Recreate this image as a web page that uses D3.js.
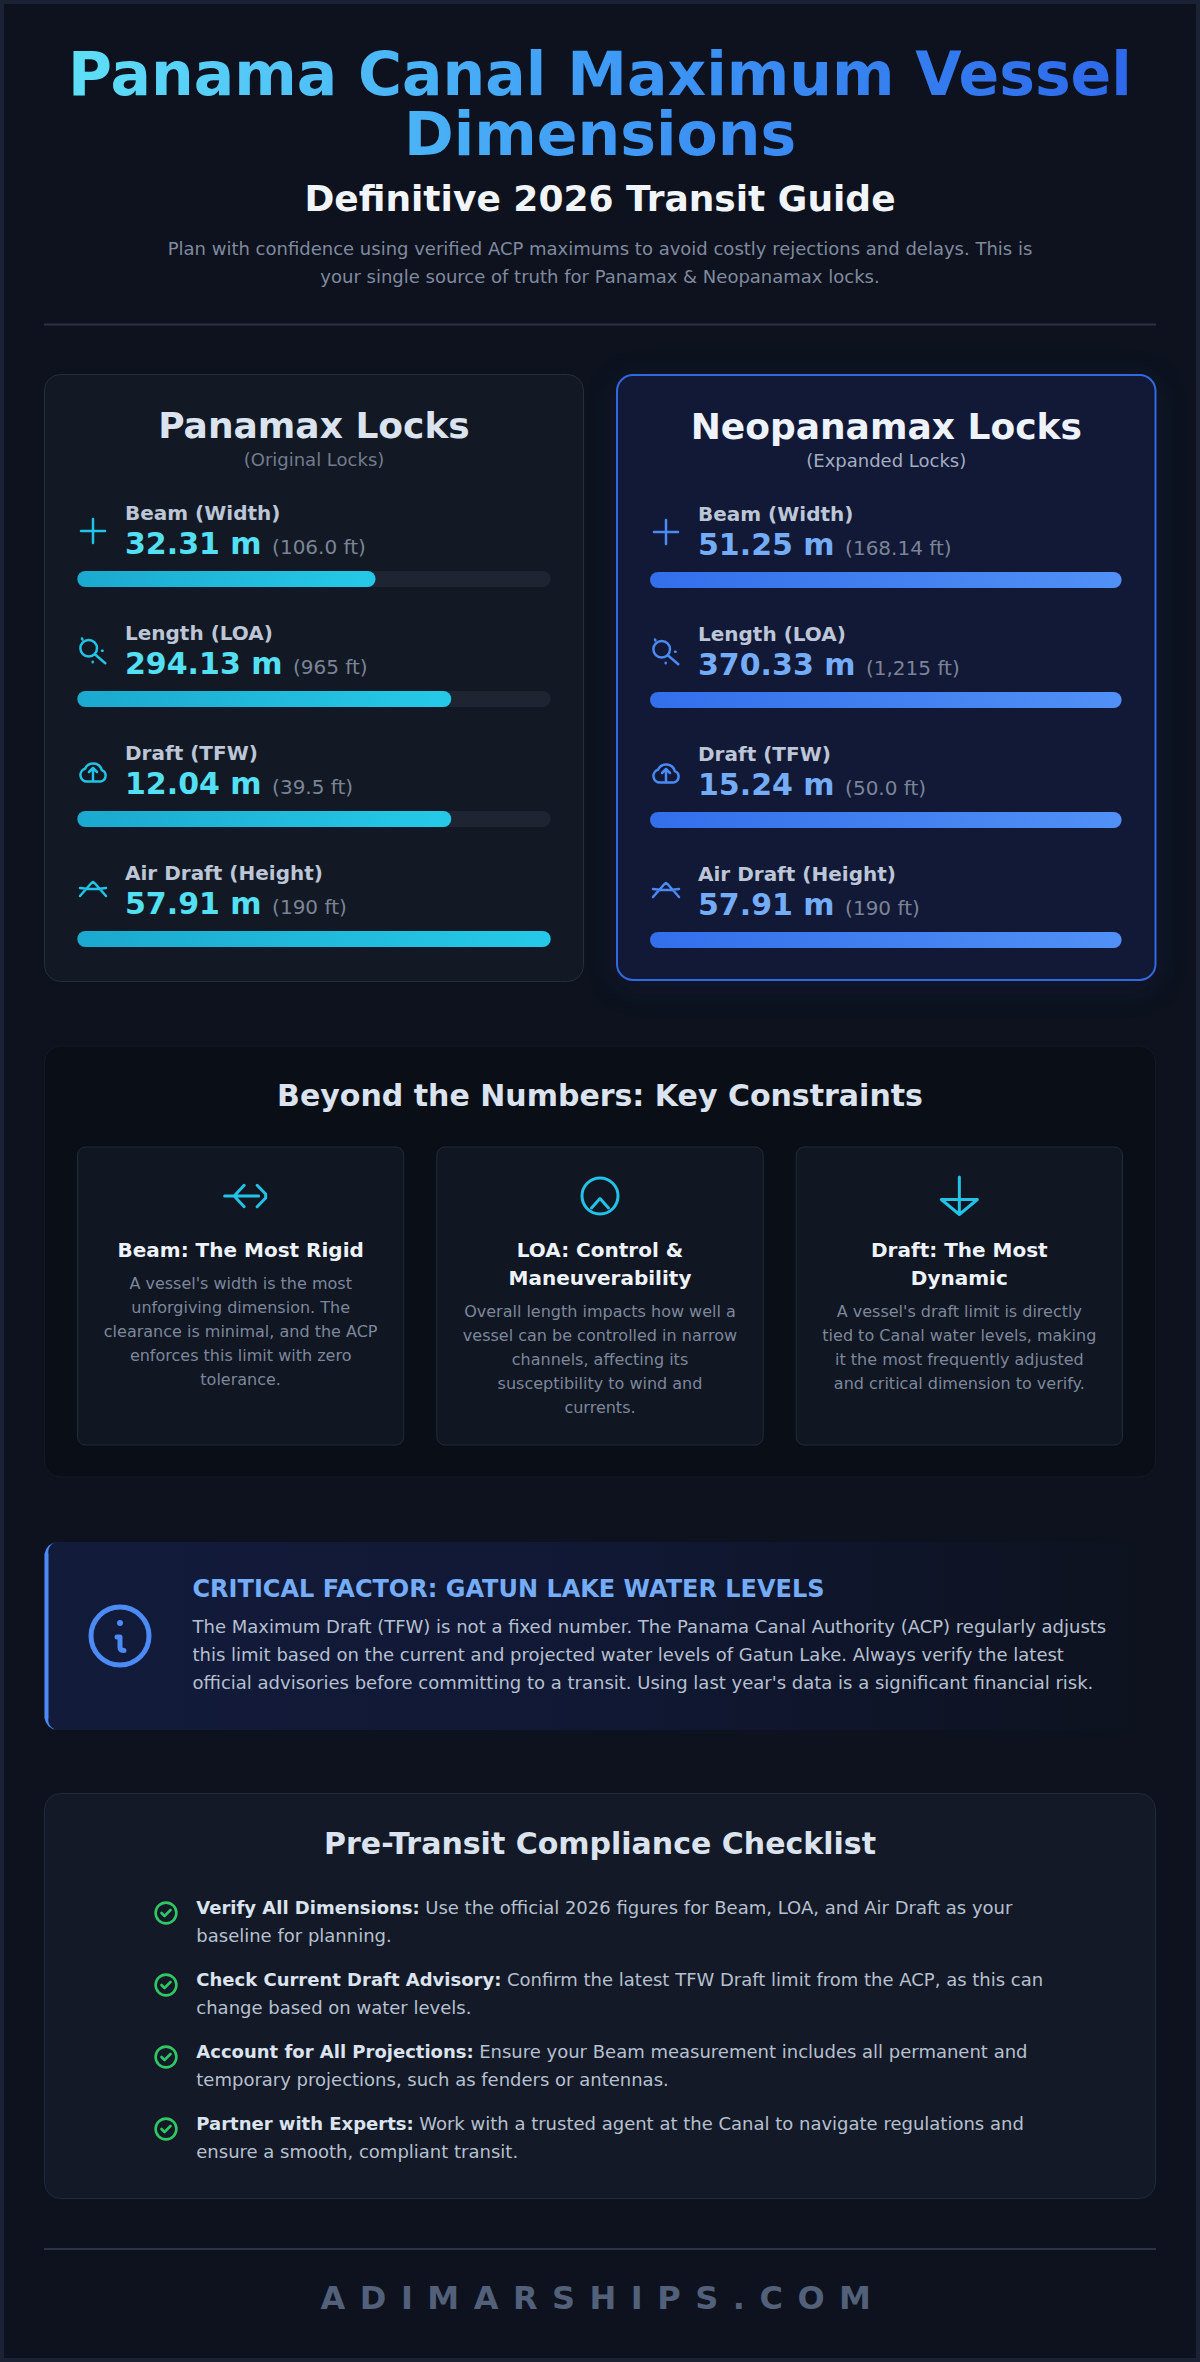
<!DOCTYPE html>
<html lang="en">
<head>
<meta charset="UTF-8">
<title>Panama Canal Maximum Vessel Dimensions</title>
<script src="https://d3js.org/d3.v7.min.js"></script>
<style>
    html, body { margin: 0; padding: 0; background: #0d121e; }
    svg { display: block; font-family: "DejaVu Sans", sans-serif; }
</style>
</head>
<body>
<div id="chart"></div>
<script>
// --- data ---
const titleLines = ["Panama Canal Maximum Vessel", "Dimensions"];
const subtitle = "Definitive 2026 Transit Guide";
const introLines = [
    "Plan with confidence using verified ACP maximums to avoid costly rejections and delays. This is",
    "your single source of truth for Panamax & Neopanamax locks."
];

const lockNames = ["Panamax Locks", "Neopanamax Locks"];
const lockNotes = ["(Original Locks)", "(Expanded Locks)"];
const metricLabels = ["Beam (Width)", "Length (LOA)", "Draft (TFW)", "Air Draft (Height)"];
const metricIcons = ["beam", "length", "draft", "air"];
const panamaxMeters = ["32.31 m", "294.13 m", "12.04 m", "57.91 m"];
const panamaxFeet = ["(106.0 ft)", "(965 ft)", "(39.5 ft)", "(190 ft)"];
const panamaxPercent = [63, 79, 79, 100];
const neoMeters = ["51.25 m", "370.33 m", "15.24 m", "57.91 m"];
const neoFeet = ["(168.14 ft)", "(1,215 ft)", "(50.0 ft)", "(190 ft)"];
const neoPercent = [100, 100, 100, 100];

const constraintsTitle = "Beyond the Numbers: Key Constraints";
const constraintIcons = ["rigid", "control", "dynamic"];
const constraintHeads = [
    ["Beam: The Most Rigid"],
    ["LOA: Control &", "Maneuverability"],
    ["Draft: The Most", "Dynamic"]
];
const constraintTexts = [
    ["A vessel's width is the most", "unforgiving dimension. The", "clearance is minimal, and the ACP", "enforces this limit with zero", "tolerance."],
    ["Overall length impacts how well a", "vessel can be controlled in narrow", "channels, affecting its", "susceptibility to wind and", "currents."],
    ["A vessel's draft limit is directly", "tied to Canal water levels, making", "it the most frequently adjusted", "and critical dimension to verify."]
];

const calloutHead = "CRITICAL FACTOR: GATUN LAKE WATER LEVELS";
const calloutLines = [
    "The Maximum Draft (TFW) is not a fixed number. The Panama Canal Authority (ACP) regularly adjusts",
    "this limit based on the current and projected water levels of Gatun Lake. Always verify the latest",
    "official advisories before committing to a transit. Using last year's data is a significant financial risk."
];

const checklistTitle = "Pre-Transit Compliance Checklist";
const checklistBold = ["Verify All Dimensions:", "Check Current Draft Advisory:", "Account for All Projections:", "Partner with Experts:"];
const checklistFirst = [
    "Use the official 2026 figures for Beam, LOA, and Air Draft as your",
    "Confirm the latest TFW Draft limit from the ACP, as this can",
    "Ensure your Beam measurement includes all permanent and",
    "Work with a trusted agent at the Canal to navigate regulations and"
];
const checklistSecond = [
    "baseline for planning.",
    "change based on water levels.",
    "temporary projections, such as fenders or antennas.",
    "ensure a smooth, compliant transit."
];
const footerText = "ADIMARSHIPS.COM";

// --- icons, drawn around 0,0 ---
const iconPaths = {
    beam: "M-12 0H12M0 -12V12",
    length: "M4 -2.7a8.3 8.3 0 1 0 -16.6 0a8.3 8.3 0 1 0 16.6 0M-11 -12.5l.4 1M9 -.3h.6M-.3 10.7v.6M1.5 3L12.3 12.3",
    draft: "M-6 10.5a6.5 6.5 0 0 1 -2 -12.7a8.9 8.9 0 0 1 16.8 1.4a5.9 5.9 0 0 1 -1 11.3ZM0 10.5V-3M-4 1L0 -3L4 1",
    air: "M-13 5L-2 -7.5L0 -9L2 -7.5L13 5M-13 -3Q0 -1 13 -3",
    rigid: "M-16 0H18M3.5 -10.7L-6.5 0L3.5 10.7M16.5 -10.7L25 -2V2L16.5 10.7",
    control: "M-8.5 12L0 2.5L8.5 12",
    dynamic: "M0 -19V18.5M-18 3.5H18M-18 3.5L0 18.5L18 3.5",
    info: "M-3 1H0V11Q0 14.5 4 14.5",
    check: "M-4.5 0L-1.5 3L4.5 -3"
};

const width = 1200, height = 2362;
const svg = d3.select("#chart").append("svg")
    .attr("width", width).attr("height", height).attr("viewBox", `0 0 ${width} ${height}`);

const defs = svg.append("defs");

function linearGradient(id, stops) {
    const g = defs.append("linearGradient").attr("id", id);
    stops.forEach(s => g.append("stop").attr("offset", s[0]).attr("stop-color", s[1]));
    return g;
}
linearGradient("titleGrad", [[0, "#5ee0f7"], [0.5, "#3f9bf6"], [1, "#2d68ea"]])
    .attr("gradientUnits", "userSpaceOnUse").attr("x1", 69).attr("x2", 1132).attr("y1", 0).attr("y2", 0);
linearGradient("barCyan", [[0, "#1ba9cf"], [1, "#25c9e8"]]);
linearGradient("barBlue", [[0, "#336fea"], [1, "#5190f6"]]);
linearGradient("calloutGrad", [[0, "#121b3a"], [0.5, "#101834"], [1, "#0d121e"]]);

const blur = defs.append("filter").attr("id", "glow").attr("x", "-20%").attr("y", "-20%").attr("width", "140%").attr("height", "140%");
blur.append("feGaussianBlur").attr("stdDeviation", 16);

// page frame
svg.append("rect").attr("width", width).attr("height", height).attr("fill", "#1a2233");
svg.append("rect").attr("x", 4).attr("y", 4).attr("width", width - 8).attr("height", height - 8).attr("fill", "#0d121e");

function textLine(parent, str, x, y, size, fill, weight, anchor) {
    return parent.append("text")
        .attr("x", x).attr("y", y)
        .attr("font-size", size)
        .attr("font-weight", weight || "normal")
        .attr("text-anchor", anchor || "start")
        .attr("fill", fill)
        .text(str);
}

// --- header ---
svg.append("g").selectAll("text").data(titleLines).join("text")
    .attr("x", 600)
    .attr("y", (d, i) => 95 + i * 60)
    .attr("text-anchor", "middle")
    .attr("font-size", 60)
    .attr("font-weight", "bold")
    .attr("fill", "url(#titleGrad)")
    .text(d => d);

textLine(svg, subtitle, 600, 211, 36, "#f1f5f9", "bold", "middle");
svg.selectAll(".intro").data(introLines).join("text").attr("class", "intro")
    .attr("x", 600).attr("y", (d, i) => 255 + i * 28)
    .attr("text-anchor", "middle").attr("font-size", 18).attr("fill", "#808a9e")
    .text(d => d);
svg.append("rect").attr("x", 44).attr("y", 323.5).attr("width", 1112).attr("height", 2).attr("fill", "#2a3245");

// --- lock cards ---
const cards = [
    { x: 44.5, y: 374.5, w: 539, h: 607, fill: "#121924", stroke: "#262e3c", sw: 1, titleFill: "#dbe3ef", noteFill: "#737c8e",
      name: lockNames[0], note: lockNotes[0], meters: panamaxMeters, feet: panamaxFeet, percent: panamaxPercent,
      accent: "#22c3e6", valueFill: "#53e0f5", bar: "barCyan", dy: 0, track: [77.3, 473.4], iconX: 93, labelX: 125 },
    { x: 617, y: 375, w: 538.5, h: 605, fill: "#111936", stroke: "#3269e0", sw: 2, titleFill: "#eef3fb", noteFill: "#a3adc0",
      name: lockNames[1], note: lockNotes[1], meters: neoMeters, feet: neoFeet, percent: neoPercent,
      accent: "#4a8af4", valueFill: "#74acf8", bar: "barBlue", dy: 1, track: [650, 471.6], iconX: 666, labelX: 698 }
];

// soft glow behind the expanded card
svg.append("rect").attr("x", cards[1].x).attr("y", cards[1].y + 6).attr("width", cards[1].w).attr("height", cards[1].h)
    .attr("rx", 16).attr("fill", "#14265c").attr("opacity", 0.3).attr("filter", "url(#glow)");

cards.forEach(c => {
    const g = svg.append("g");
    g.append("rect").attr("x", c.x).attr("y", c.y).attr("width", c.w).attr("height", c.h).attr("rx", 16)
        .attr("fill", c.fill).attr("stroke", c.stroke).attr("stroke-width", c.sw);
    const cx = c.x + c.w / 2;
    textLine(g, c.name, cx, 437.5 + c.dy, 36, c.titleFill, "bold", "middle");
    textLine(g, c.note, cx, 466 + c.dy, 18, c.noteFill, "normal", "middle");

    const xBar = d3.scaleLinear().domain([0, 100]).range([0, c.track[1]]);
    const yRow = d3.scaleBand().domain(metricLabels).range([0, 480]);

    const rows = g.selectAll(".row").data(metricLabels).join("g").attr("class", "row")
        .attr("transform", d => `translate(0,${yRow(d) + c.dy})`);

    rows.append("path")
        .attr("transform", `translate(${c.iconX},531)`)
        .attr("d", (d, i) => iconPaths[metricIcons[i]])
        .attr("fill", "none").attr("stroke", c.accent).attr("stroke-width", 2.5)
        .attr("stroke-linecap", "round").attr("stroke-linejoin", "round");
    rows.append("text").attr("x", c.labelX).attr("y", 520)
        .attr("font-size", 20).attr("font-weight", "bold").attr("fill", "#bcc6d6")
        .text(d => d);
    const val = rows.append("text").attr("x", c.labelX).attr("y", 554);
    val.append("tspan").attr("font-size", 30).attr("font-weight", "bold").attr("fill", c.valueFill)
        .text((d, i) => c.meters[i]);
    val.append("tspan").attr("dx", 10.5).attr("font-size", 20).attr("fill", "#7b8496")
        .text((d, i) => c.feet[i]);

    rows.append("rect").attr("x", c.track[0]).attr("y", 571).attr("width", xBar(100)).attr("height", 16).attr("rx", 8)
        .attr("fill", "#1e2431");
    rows.append("rect").attr("x", c.track[0]).attr("y", 571)
        .attr("width", (d, i) => xBar(c.percent[i])).attr("height", 16).attr("rx", 8)
        .attr("fill", `url(#${c.bar})`);
});

// --- constraints ---
const panel = svg.append("g");
panel.append("rect").attr("x", 44.5).attr("y", 1046).attr("width", 1111).attr("height", 431).attr("rx", 16)
    .attr("fill", "#0a0e17").attr("stroke", "#141923");
textLine(panel, constraintsTitle, 600, 1106, 30, "#dbe3ef", "bold", "middle");

const xCard = d3.scaleBand().domain(constraintIcons).range([77.5, 1122.5]).paddingInner(33 / 359);
const subCards = panel.selectAll(".sub").data(constraintIcons).join("g").attr("class", "sub")
    .attr("transform", d => `translate(${xCard(d)},0)`);
subCards.append("rect").attr("y", 1147).attr("width", xCard.bandwidth()).attr("height", 298).attr("rx", 8)
    .attr("fill", "#101622").attr("stroke", "#232a37");
const subCx = xCard.bandwidth() / 2;
subCards.append("path").attr("transform", `translate(${subCx},1196)`)
    .attr("d", d => iconPaths[d]).attr("fill", "none").attr("stroke", "#22c3e6").attr("stroke-width", 3)
    .attr("stroke-linecap", "round").attr("stroke-linejoin", "round");
subCards.filter(d => d === "control").append("circle").attr("cx", subCx).attr("cy", 1196)
    .attr("r", 18).attr("fill", "none").attr("stroke", "#22c3e6").attr("stroke-width", 3);
subCards.each(function (d, i) {
    const g = d3.select(this);
    const heads = constraintHeads[i];
    heads.forEach((h, j) => textLine(g, h, subCx, 1256.5 + j * 28, 20, "#eef3fb", "bold", "middle"));
    const y0 = 1289 + (heads.length - 1) * 28;
    constraintTexts[i].forEach((t, j) => textLine(g, t, subCx, y0 + j * 24, 16, "#7d879b", "normal", "middle"));
});

// --- callout ---
const callout = svg.append("g");
callout.append("rect").attr("x", 44.5).attr("y", 1542).attr("width", 1111).attr("height", 188).attr("rx", 12)
    .attr("fill", "url(#calloutGrad)");
callout.append("path").attr("d", "M57 1542a14 14 0 0 0 -12.5 12V1718a14 14 0 0 0 12.5 12a10 10 0 0 1 -8.5 -12V1554a10 10 0 0 1 8.5 -12Z")
    .attr("fill", "#4c8bf5");
const info = callout.append("g").attr("transform", "translate(120,1636)");
info.append("circle").attr("r", 29).attr("fill", "none").attr("stroke", "#4c8bf5").attr("stroke-width", 5);
info.append("path").attr("d", iconPaths.info).attr("fill", "none").attr("stroke", "#4c8bf5").attr("stroke-width", 5)
    .attr("stroke-linecap", "round").attr("stroke-linejoin", "round");
info.append("circle").attr("cy", -13).attr("r", 3).attr("fill", "#4c8bf5");
textLine(callout, calloutHead, 192.5, 1597, 24, "#74acf8", "bold");
callout.selectAll(".body").data(calloutLines).join("text").attr("class", "body")
    .attr("x", 192.5).attr("y", (d, i) => 1633 + i * 28)
    .attr("font-size", 18).attr("fill", "#b6c0d0")
    .text(d => d);

// --- checklist ---
const check = svg.append("g");
check.append("rect").attr("x", 44.5).attr("y", 1793.5).attr("width", 1111).attr("height", 405).attr("rx", 16)
    .attr("fill", "#131926").attr("stroke", "#232a37");
textLine(check, checklistTitle, 600, 1854, 30, "#dbe3ef", "bold", "middle");
const yCheck = d3.scaleBand().domain(checklistBold).range([0, 288]);
const checkRows = check.selectAll(".item").data(checklistBold).join("g").attr("class", "item")
    .attr("transform", d => `translate(0,${yCheck(d)})`);
checkRows.append("circle").attr("cx", 166).attr("cy", 1913).attr("r", 10.4)
    .attr("fill", "none").attr("stroke", "#2fc763").attr("stroke-width", 2.6);
checkRows.append("path").attr("transform", "translate(166,1913)").attr("d", iconPaths.check)
    .attr("fill", "none").attr("stroke", "#2fc763").attr("stroke-width", 2.6)
    .attr("stroke-linecap", "round").attr("stroke-linejoin", "round");
const firstLine = checkRows.append("text").attr("x", 196.3).attr("y", 1914).attr("font-size", 18);
firstLine.append("tspan").attr("font-weight", "bold").attr("fill", "#dbe3ef").text(d => d);
firstLine.append("tspan").attr("dx", 5.5).attr("fill", "#b6c0d0").text((d, i) => checklistFirst[i]);
checkRows.append("text").attr("x", 196.3).attr("y", 1942).attr("font-size", 18).attr("fill", "#b6c0d0")
    .text((d, i) => checklistSecond[i]);

// --- footer ---
svg.append("rect").attr("x", 44).attr("y", 2248).attr("width", 1112).attr("height", 2).attr("fill", "#2a3245");
textLine(svg, footerText, 603, 2309, 32, "#526079", "bold", "middle").attr("letter-spacing", 14.5);
</script>
</body>
</html>
